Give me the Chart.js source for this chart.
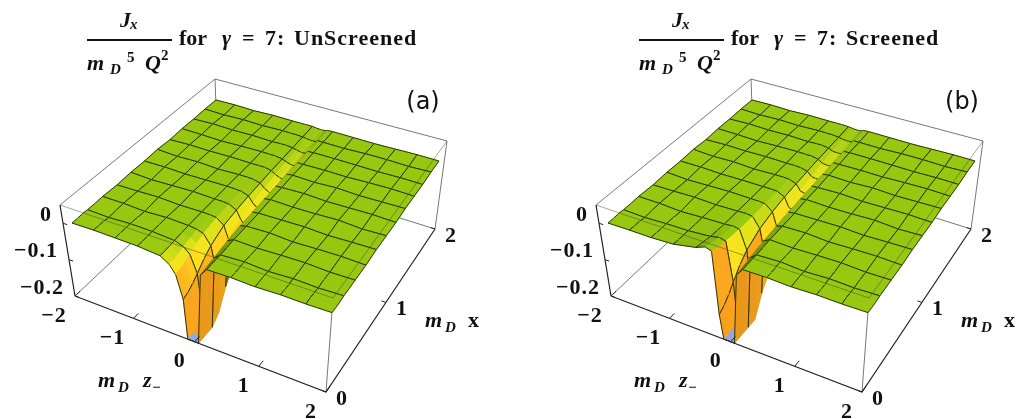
<!DOCTYPE html>
<html lang="en">
<head>
  <meta charset="UTF-8" />
  <title>Jx for gamma = 7</title>
  <script src="https://cdn.jsdelivr.net/npm/chart.js"></script>
  <style>
    body { margin: 0; background: #fff; }
    canvas { position: absolute; top: 0; }
    #panelA { left: 0; }
    #panelB { left: 509px; }
  </style>
</head>
<body>
  <canvas id="panelA" width="509" height="419"></canvas>
  <canvas id="panelB" width="509" height="419"></canvas>

  <script>
    // surface samples: m_D z- columns, m_D x rows (finer around the trench)
    const zNodes = [-2, -1.636, -1.273, -0.909, -0.545, -0.4, -0.3, -0.182, -0.11, -0.04, 0, 0.06, 0.085, 0.182, 0.545, 0.909, 1.273, 1.636, 2];
    const xNodes = [0, 0.06, 0.12, 0.182, 0.27, 0.364, 0.545, 0.727, 0.909, 1.091, 1.273, 1.455, 1.636, 1.818, 2];
    // the plotted mesh lines
    const meshZ = [-2, -1.636, -1.273, -0.909, -0.545, -0.182, 0.182, 0.545, 0.909, 1.273, 1.636, 2];
    const meshX = [0, 0.182, 0.364, 0.545, 0.727, 0.909, 1.091, 1.273, 1.455, 1.636, 1.818, 2];

    const zTicks = [-2, -1, 0, 1, 2];
    const xTicks = [0, 1, 2];
    const jTicks = [0, -0.1, -0.2];

    // Jx / (mD^5 Q^2), one row per xNodes entry
    const unscreened = [
      [0, 0.001, 0, -0.001, -0.006, -0.021, -0.042, -0.1, -0.21, -0.3, -0.32, -0.32, -0.02, 0, 0.001, -0.001, 0.001, 0, 0.001],
      [0, 0, 0.001, -0.001, -0.006, -0.02, -0.039, -0.095, -0.2, -0.29, -0.3, -0.3, -0.018, 0, 0, 0, 0, 0.001, 0],
      [0.001, 0, 0, -0.001, -0.005, -0.017, -0.034, -0.085, -0.18, -0.26, -0.28, -0.275, -0.016, 0, 0.001, 0, -0.001, 0, 0],
      [0, -0.002, 0.001, 0, -0.004, -0.013, -0.027, -0.072, -0.155, -0.225, -0.25, -0.24, -0.014, -0.001, 0.002, -0.002, 0.001, -0.001, 0.001],
      [0, 0, 0, 0, -0.002, -0.008, -0.017, -0.052, -0.115, -0.17, -0.19, -0.18, -0.01, 0, 0, 0, 0, 0, 0],
      [0.001, 0.001, -0.002, 0.001, -0.001, -0.004, -0.01, -0.036, -0.085, -0.125, -0.14, -0.132, -0.007, 0.001, -0.001, 0.001, 0.002, -0.001, 0],
      [-0.001, 0, 0.002, -0.001, 0, -0.001, -0.003, -0.018, -0.05, -0.072, -0.08, -0.07, -0.004, 0, 0.002, -0.002, 0, 0.001, -0.001],
      [0.001, -0.002, 0, 0.002, 0, 0, -0.002, -0.012, -0.034, -0.048, -0.052, -0.046, -0.003, -0.001, 0, 0.001, -0.002, 0, 0.001],
      [0, 0.001, -0.001, 0, 0.001, 0, -0.001, -0.008, -0.024, -0.034, -0.037, -0.032, -0.002, 0.001, -0.001, 0, 0.002, -0.002, 0],
      [0.002, -0.001, 0.001, -0.002, 0, 0, -0.001, -0.006, -0.017, -0.024, -0.027, -0.023, -0.001, 0, 0.002, -0.001, 0, 0.001, -0.001],
      [-0.001, 0.001, 0, 0.001, 0, 0, 0, -0.004, -0.012, -0.017, -0.019, -0.016, -0.001, 0.001, -0.001, 0.002, -0.001, 0, 0.001],
      [0.001, 0, -0.002, 0, 0.001, 0, 0, -0.003, -0.008, -0.012, -0.013, -0.011, -0.001, -0.001, 0, -0.001, 0.001, 0.002, 0],
      [0, 0.002, 0, 0.001, -0.001, 0, 0, -0.002, -0.005, -0.008, -0.009, -0.007, 0, 0.001, 0.001, 0, -0.001, 0, -0.001],
      [0.001, -0.001, 0.001, -0.001, 0.001, 0, 0, -0.001, -0.003, -0.005, -0.005, -0.004, 0, 0, -0.001, 0.001, 0.001, -0.001, 0.001],
      [0, 0.001, -0.001, 0.001, 0, 0, 0, 0, -0.002, -0.003, -0.003, -0.002, 0, 0.001, 0, -0.001, 0, 0.001, 0]
    ];

    // same thing for panel (b)
    const screened = [
      [0, 0.001, 0.001, 0.004, 0.016, 0.026, 0.02, -0.14, -0.36, -0.38, -0.38, -0.38, -0.02, 0, 0.001, -0.001, 0.001, 0, 0.001],
      [0, 0, 0.001, 0.003, 0.013, 0.021, 0.015, -0.13, -0.34, -0.36, -0.36, -0.36, -0.018, 0, 0, 0, 0, 0.001, 0],
      [0.001, 0, 0, 0.002, 0.01, 0.016, 0.011, -0.115, -0.3, -0.33, -0.33, -0.33, -0.016, 0, 0.001, 0, -0.001, 0, 0],
      [0, -0.002, 0.001, 0.002, 0.007, 0.012, 0.008, -0.095, -0.26, -0.285, -0.285, -0.28, -0.014, -0.001, 0.002, -0.002, 0.001, -0.001, 0.001],
      [0, 0, 0, 0.001, 0.005, 0.008, 0.005, -0.068, -0.195, -0.21, -0.21, -0.205, -0.01, 0, 0, 0, 0, 0, 0],
      [0.001, 0.001, -0.002, 0.001, 0.003, 0.005, 0.002, -0.048, -0.145, -0.155, -0.155, -0.15, -0.008, 0.001, -0.001, 0.001, 0.002, -0.001, 0],
      [-0.001, 0, 0.002, 0, 0.002, 0.003, 0, -0.027, -0.085, -0.092, -0.092, -0.09, -0.005, 0, 0.002, -0.002, 0, 0.001, -0.001],
      [0.001, -0.002, 0, 0.002, 0.001, 0.001, -0.001, -0.017, -0.054, -0.06, -0.06, -0.058, -0.003, -0.001, 0, 0.001, -0.002, 0, 0.001],
      [0, 0.001, -0.001, 0, 0, 0, -0.001, -0.011, -0.036, -0.04, -0.04, -0.039, -0.002, 0.001, -0.001, 0, 0.002, -0.002, 0],
      [0.002, -0.001, 0.001, -0.002, 0, 0, -0.001, -0.008, -0.025, -0.028, -0.028, -0.027, -0.001, 0, 0.002, -0.001, 0, 0.001, -0.001],
      [-0.001, 0.001, 0, 0.001, 0, 0, -0.001, -0.006, -0.018, -0.02, -0.02, -0.019, -0.001, 0.001, -0.001, 0.002, -0.001, 0, 0.001],
      [0.001, 0, -0.002, 0, 0.001, 0, 0, -0.004, -0.012, -0.014, -0.014, -0.013, -0.001, -0.001, 0, -0.001, 0.001, 0.002, 0],
      [0, 0.002, 0, 0.001, -0.001, 0, 0, -0.003, -0.009, -0.01, -0.01, -0.009, 0, 0.001, 0.001, 0, -0.001, 0, -0.001],
      [0.001, -0.001, 0.001, -0.001, 0.001, 0, 0, -0.002, -0.005, -0.006, -0.006, -0.005, 0, 0, -0.001, 0.001, 0.001, -0.001, 0.001],
      [0, 0.001, -0.001, 0.001, 0, 0, 0, -0.001, -0.003, -0.004, -0.004, -0.003, 0, 0.001, 0, -0.001, 0, 0.001, 0]
    ];

    // camera: where the corners of three horizontal planes land in the view
    // order: (z=-2,x=0) (z=2,x=0) (z=2,x=2) (z=-2,x=2)
    const J_FLOOR = -0.2, J_TOP = 0.05;
    const planeSurface = homography([[72, 223], [332, 313], [439, 161], [216, 100]]);
    const planeFloor = homography([[75, 296], [326, 392], [435, 229], [218, 161]]);
    const planeTop = homography([[60, 205], [333, 298], [447, 141], [215, 79]]);

    function homography(q) {
      const [x0, y0] = q[0], [x1, y1] = q[1], [x2, y2] = q[2], [x3, y3] = q[3];
      const dx1 = x1 - x2, dx2 = x3 - x2, sx = x0 - x1 + x2 - x3;
      const dy1 = y1 - y2, dy2 = y3 - y2, sy = y0 - y1 + y2 - y3;
      const den = dx1 * dy2 - dx2 * dy1;
      const g = (sx * dy2 - dx2 * sy) / den, h = (dx1 * sy - sx * dy1) / den;
      const a = x1 - x0 + g * x1, b = x3 - x0 + h * x3;
      const d = y1 - y0 + g * y1, e = y3 - y0 + h * y3;
      return function (z, x) {
        const u = (z + 2) / 4, v = x / 2, w = g * u + h * v + 1;
        return [(a * u + b * v + x0) / w, (d * u + e * v + y0) / w];
      };
    }

    function lerp(p, q, t) {
      return [p[0] + (q[0] - p[0]) * t, p[1] + (q[1] - p[1]) * t];
    }
    // point on the plotted surface
    function surfacePoint(z, x, j) {
      return lerp(planeSurface(z, x), planeFloor(z, x), j / J_FLOOR);
    }
    // point on the bounding box
    function boxPoint(z, x, j) {
      return lerp(planeFloor(z, x), planeTop(z, x), (j - J_FLOOR) / (J_TOP - J_FLOOR));
    }

    const depthRamp = [
      [0, [152, 200, 16]], [0.004, [156, 202, 18]], [0.012, [205, 220, 25]], [0.02, [235, 230, 28]],
      [0.04, [255, 225, 30]], [0.06, [254, 190, 30]], [0.09, [251, 168, 31]], [0.3, [248, 156, 26]]
    ];
    function cellColor(depth, slope) {
      // steep far wall counts as deep even near its rim
      if (slope < -0.8) depth = Math.max(depth, 0.09);
      let c = depthRamp[depthRamp.length - 1][1];
      for (let i = 1; i < depthRamp.length; i++) {
        if (depth <= depthRamp[i][0]) {
          const a = depthRamp[i - 1], b = depthRamp[i];
          const t = Math.max(0, (depth - a[0]) / (b[0] - a[0]));
          c = a[1].map((v, k) => v + (b[1][k] - v) * t);
          break;
        }
      }
      // walls facing away from the light go darker
      let shade = 1;
      if (slope > 0) shade = depth > 0.06 ? 0.93 : 1 - Math.min(0.45, slope * 2.5);
      return 'rgb(' + c.map(v => Math.round(v * shade)).join(',') + ')';
    }

    function lineSet(points, color, width) {
      return { data: points.map(p => ({ x: p[0], y: p[1] })), borderColor: color, borderWidth: width, fill: false };
    }

    function buildDatasets(table, shift) {
      const sets = [];
      const at = p => [p[0] + shift, p[1]];
      const box = (z, x, j) => at(boxPoint(z, x, j));
      const grey = '#777', black = '#222';

      // box edges behind the surface
      sets.push(lineSet([box(-2, 0, J_TOP), box(-2, 2, J_TOP), box(2, 2, J_TOP)], grey, 1));
      sets.push(lineSet([box(-2, 2, J_TOP), box(-2, 2, J_FLOOR)], grey, 1));
      sets.push(lineSet([box(-2, 0, J_FLOOR), box(-2, 2, J_FLOOR), box(2, 2, J_FLOOR)], grey, 1));
      sets.push(lineSet([box(2, 2, J_TOP), box(2, 2, J_FLOOR)], grey, 1));
      sets.push(lineSet([box(2, 0, J_TOP), box(2, 0, J_FLOOR)], grey, 1));

      // surface cells, far ones first
      const clampJ = v => Math.max(v, J_FLOOR);
      for (let i = xNodes.length - 2; i >= 0; i--) {
        for (let k = 0; k < zNodes.length - 1; k++) {
          const z0 = zNodes[k], z1 = zNodes[k + 1], x0 = xNodes[i], x1 = xNodes[i + 1];
          const j00 = table[i][k], j01 = table[i][k + 1], j10 = table[i + 1][k], j11 = table[i + 1][k + 1];
          const p00 = at(surfacePoint(z0, x0, clampJ(j00)));
          const p01 = at(surfacePoint(z1, x0, clampJ(j01)));
          const p11 = at(surfacePoint(z1, x1, clampJ(j11)));
          const p10 = at(surfacePoint(z0, x1, clampJ(j10)));
          const mean = (j00 + j01 + j10 + j11) / 4;
          const slope = ((j01 + j11) - (j00 + j10)) / 2 / (z1 - z0);
          const below = Math.max(j00, j01, j10, j11) <= J_FLOOR;
          const color = below ? '#93a8dc' : cellColor(-mean, slope);
          sets.push({
            data: [p00, p01, p11, p10, p00].map(p => ({ x: p[0], y: p[1] })),
            backgroundColor: color, borderColor: color, borderWidth: 0.8, fill: 'shape'
          });
          // mesh lines on this cell's sides
          const gap = { x: NaN, y: NaN };
          const seg = [];
          const add = (a, b) => { seg.push({ x: a[0], y: a[1] }, { x: b[0], y: b[1] }, gap); };
          if (meshX.includes(x0)) add(p00, p01);
          if (meshX.includes(x1)) add(p10, p11);
          if (meshZ.includes(z0)) add(p00, p10);
          if (meshZ.includes(z1)) add(p01, p11);
          if (seg.length) sets.push({ data: seg, borderColor: '#1c2608', borderWidth: 0.9, fill: false });
        }
      }

      // box edges in front of the surface
      sets.push(lineSet([box(-2, 0, J_TOP), box(2, 0, J_TOP), box(2, 2, J_TOP)], 'rgba(60,70,40,0.6)', 0.8));
      sets.push(lineSet([box(-2, 0, J_TOP), box(-2, 0, J_FLOOR)], black, 1.2));
      sets.push(lineSet([box(-2, 0, J_FLOOR), box(2, 0, J_FLOOR), box(2, 2, J_FLOOR)], black, 1.2));

      // tick marks
      zTicks.forEach(z => sets.push(lineSet([box(z, 0, J_FLOOR), box(z, 0.06, J_FLOOR)], black, 1)));
      xTicks.forEach(x => sets.push(lineSet([box(2, x, J_FLOOR), box(1.93, x, J_FLOOR)], black, 1)));
      jTicks.forEach(j => sets.push(lineSet([box(-2, 0, j), box(-1.93, 0, j)], black, 1)));

      // chart.js paints the first dataset on top
      return sets.reverse();
    }

    const serifB = 'bold 22px "Liberation Serif"';
    const serifI = 'italic bold 22px "Liberation Serif"';
    const smallB = 'bold 15px "Liberation Serif"';
    const smallI = 'italic bold 15px "Liberation Serif"';

    function put(ctx, text, font, x, y) {
      ctx.font = font;
      ctx.fillText(text, x, y);
    }

    const textPlugin = {
      id: 'plotText',
      afterDraw(chart, args, opts) {
        const ctx = chart.ctx, s = opts.shift, t = opts.titleShift;
        const px = p => [chart.scales.x.getPixelForValue(p[0] + s), chart.scales.y.getPixelForValue(p[1])];
        ctx.save();
        ctx.fillStyle = '#111';

        // title fraction
        ctx.textAlign = 'left';
        ctx.textBaseline = 'alphabetic';
        put(ctx, 'J', serifI, 120 + t, 27);
        put(ctx, 'x', smallI, 130 + t, 29);
        ctx.fillRect(87 + t, 39, 85, 2);
        put(ctx, 'm', serifI, 87 + t, 70);
        put(ctx, 'D', smallI, 110 + t, 74);
        put(ctx, '5', smallB, 127 + t, 62);
        put(ctx, 'Q', serifI, 145 + t, 70);
        put(ctx, '2', smallB, 161 + t, 60);
        put(ctx, 'for', serifB, 179 + t, 45);
        put(ctx, 'γ', serifI, 222 + t, 45);
        put(ctx, '=', serifB, 242 + t, 45);
        put(ctx, '7', serifB, 265 + t, 45);
        put(ctx, ':', serifB, 277 + t, 45);
        ctx.letterSpacing = '1px';
        put(ctx, opts.word, serifB, 294 + t, 45);
        ctx.letterSpacing = '0px';

        // panel letter
        ctx.textAlign = 'center';
        ctx.textBaseline = 'middle';
        put(ctx, opts.letter, '24px "DejaVu Sans"', opts.letterX, 103);

        // tick labels
        const fmt = v => String(v).replace('-', '−');
        ctx.letterSpacing = '1px';
        zTicks.forEach(z => {
          const p = px(boxPoint(z, 0, J_FLOOR));
          put(ctx, fmt(z), serifB, p[0] - (z < 0 ? 21 : 15), p[1] + 20);
        });
        xTicks.forEach(x => {
          const p = px(boxPoint(2, x, J_FLOOR));
          put(ctx, fmt(x), serifB, p[0] + 16, p[1] + 7);
        });
        ctx.textAlign = 'right';
        jTicks.forEach(j => {
          const p = px(boxPoint(-2, 0, j));
          put(ctx, fmt(j), serifB, p[0] - 11, p[1] - 8);
        });
        ctx.letterSpacing = '0px';

        // axis names
        ctx.textAlign = 'left';
        ctx.textBaseline = 'alphabetic';
        put(ctx, 'm', serifI, 425 + s, 327);
        put(ctx, 'D', smallI, 445 + s, 332);
        put(ctx, 'x', serifB, 468 + s, 327);
        put(ctx, 'm', serifI, 98 + s, 387);
        put(ctx, 'D', smallI, 118 + s, 392);
        put(ctx, 'z', serifI, 143 + s, 387);
        put(ctx, '−', smallI, 152 + s, 392);
        ctx.restore();
      }
    };

    function drawPanel(id, table, shift, titleShift, word, letter, letterX) {
      new Chart(document.getElementById(id), {
        type: 'line',
        data: { datasets: buildDatasets(table, shift) },
        options: {
          responsive: false,
          animation: false,
          events: [],
          devicePixelRatio: 1,
          clip: false,
          elements: { point: { radius: 0 }, line: { tension: 0 } },
          layout: { padding: 0 },
          scales: {
            x: { type: 'linear', min: 0, max: 509, display: false },
            y: { type: 'linear', min: 0, max: 419, reverse: true, display: false }
          },
          plugins: {
            legend: { display: false },
            tooltip: { enabled: false },
            plotText: { shift: shift, titleShift: titleShift, word: word, letter: letter, letterX: letterX }
          }
        },
        plugins: [textPlugin]
      });
    }

    drawPanel('panelA', unscreened, 0, 0, 'UnScreened', '(a)', 423);
    drawPanel('panelB', screened, 27, 43, 'Screened', '(b)', 453);
  </script>
</body>
</html>
